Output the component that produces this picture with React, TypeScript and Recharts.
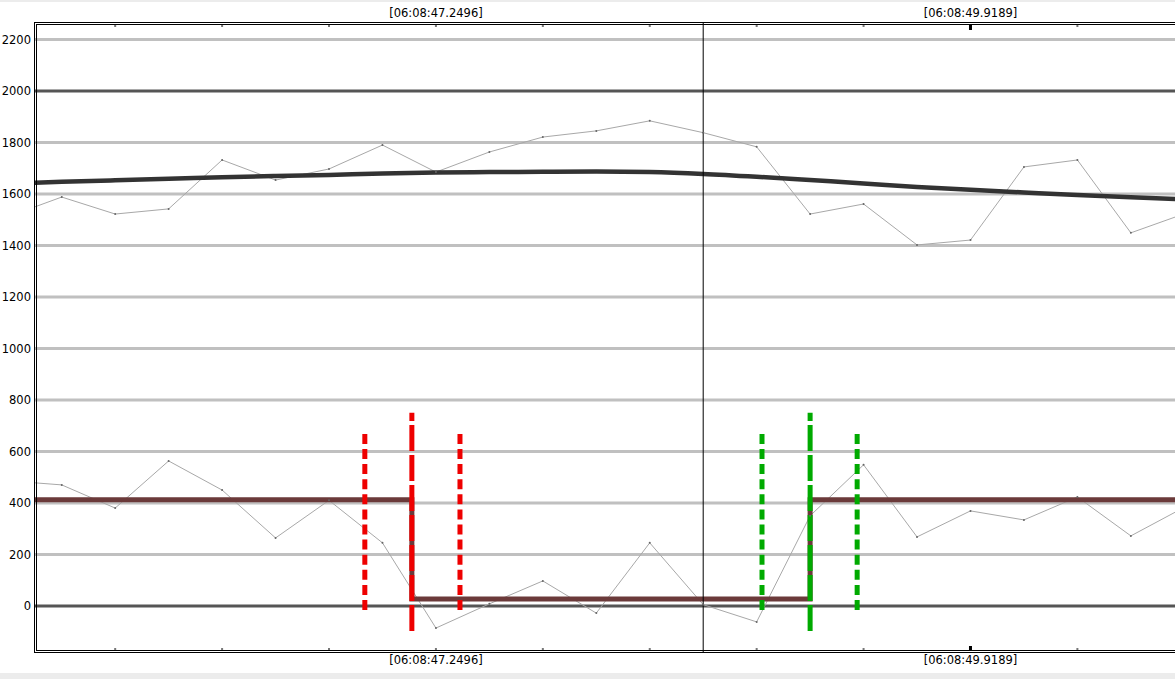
import { LineChart, Line, XAxis, YAxis, CartesianGrid, ReferenceLine } from 'recharts';

// sample positions (in sample units along the time axis)
const SAMPLE_T = [-0.5, 0.5, 1.5, 2.5, 3.5, 4.5, 5.5, 6.5, 7.5, 8.5, 9.5, 10.5, 11.5, 12.5, 13.5, 14.5, 15.5, 16.5, 17.5, 18.5, 19.5, 20.5, 21.5];

const RAW_UPPER = [1512, 1588, 1522, 1542, 1732, 1654, 1697, 1790, 1685, 1763, 1821, 1845, 1884, 1838, 1783, 1522, 1561, 1402, 1421, 1705, 1732, 1449, 1523];
const TREND_UPPER = [1640, 1647, 1653, 1659, 1665, 1670, 1674, 1679, 1683, 1685, 1686, 1687, 1685, 1678, 1667, 1654, 1641, 1627, 1616, 1606, 1596, 1587, 1579];
const RAW_LOWER = [486, 470, 380, 563, 450, 264, 410, 245, -86, 8, 97, -28, 245, 5, -62, 350, 548, 268, 369, 334, 423, 272, 383];

// step (state) line
const STEP_T = [-0.5, 7.05, 14.5, 21.8];
const STEP_V = [412, 27, 412, 412];

// event markers
const RED_SOLID_T = 7.05;
const RED_DOTTED_T = [6.17, 7.95];
const GREEN_SOLID_T = 14.5;
const GREEN_DOTTED_T = [13.6, 15.38];
const SOLID_RANGE = [-97, 750];
const DOTTED_RANGE = [668, -16];

const CURSOR_T = 12.5;

const Y_TICKS = [0, 200, 400, 600, 800, 1000, 1200, 1400, 1600, 1800, 2000, 2200];
const GRID_LIGHT = [200, 400, 600, 800, 1000, 1200, 1400, 1600, 1800, 2200];
const GRID_DARK = [0, 2000];

const TIME_TICKS = [1.5, 3.5, 5.5, 7.5, 9.5, 11.5, 13.5, 15.5, 17.5, 19.5];
const TIME_LABELS: Record<string, string> = {
  '7.5': '[06:08:47.2496]',
  '17.5': '[06:08:49.9189]'
};
const BOLD_TICK = 17.5;

const X_DOMAIN = [0, 21.7];
const Y_DOMAIN = [-179, 2264];

const FONT = '"DejaVu Sans", Verdana, sans-serif';

const rows = SAMPLE_T.map((t, i) => ({ t, upper: RAW_UPPER[i], trend: TREND_UPPER[i], lower: RAW_LOWER[i] }));
const stepRows = STEP_T.map((t, i) => ({ t, v: STEP_V[i] }));
const bar = (t: number, range: number[]) => [{ t, v: range[0] }, { t, v: range[1] }];

function TimeTick(props: any) {
  const { x, y, payload, side } = props;
  const label = TIME_LABELS[String(payload.value)];
  const bold = payload.value === BOLD_TICK;
  const top = side === 'top';
  return (
    <g>
      {bold ? (
        <rect x={x - 1.5} y={top ? y + 2 : y - 6} width={3} height={5} fill="#000" />
      ) : (
        <rect x={x - 1} y={top ? y + 2 : y - 4} width={2} height={2} fill="#777" />
      )}
      {label && (
        <text x={x} y={top ? y - 6 : y + 12} textAnchor="middle" fontSize={11.5} fontFamily={FONT} fill="#000">
          {label}
        </text>
      )}
    </g>
  );
}

export default function App() {
  return (
    <div style={{ position: 'relative', width: 1175, height: 679, overflow: 'hidden', background: '#fff' }}>
      <style>{'body{margin:0}'}</style>
      <div style={{ position: 'absolute', left: 0, top: 0, width: '100%', height: 2, background: '#ececec' }} />
      <div style={{ position: 'absolute', left: 0, top: 673, width: '100%', height: 6, background: '#ececec' }} />
      <div style={{ position: 'absolute', left: 0, top: 0 }}>
        <LineChart width={1195} height={679} data={rows} margin={{ top: 3, right: 0, bottom: 7, left: 0 }}>
          <CartesianGrid xAxisId="bottom" vertical={false} horizontalValues={GRID_LIGHT} stroke="#c0c0c0" strokeWidth={3} />
          <CartesianGrid xAxisId="bottom" vertical={false} horizontalValues={GRID_DARK} stroke="#555" strokeWidth={3} />
          <XAxis
            xAxisId="top"
            orientation="top"
            dataKey="t"
            type="number"
            domain={X_DOMAIN}
            allowDataOverflow
            ticks={TIME_TICKS}
            interval={0}
            height={20}
            axisLine={false}
            tickLine={false}
            tickSize={0}
            tickMargin={0}
            tick={<TimeTick side="top" />}
          />
          <XAxis
            xAxisId="bottom"
            orientation="bottom"
            dataKey="t"
            type="number"
            domain={X_DOMAIN}
            allowDataOverflow
            ticks={TIME_TICKS}
            interval={0}
            height={20}
            axisLine={false}
            tickLine={false}
            tickSize={0}
            tickMargin={0}
            tick={<TimeTick side="bottom" />}
          />
          <YAxis
            type="number"
            domain={Y_DOMAIN}
            allowDataOverflow
            ticks={Y_TICKS}
            interval={0}
            width={35}
            axisLine={false}
            tickLine={false}
            tickSize={0}
            tickMargin={4}
            tick={{ fontSize: 11.5, fontFamily: FONT, fill: '#000' }}
          />
          <Line xAxisId="bottom" dataKey="upper" stroke="#a8a8a8" strokeWidth={1} dot={{ r: 1, fill: '#666', stroke: 'none' }} isAnimationActive={false} />
          <Line xAxisId="bottom" dataKey="lower" stroke="#a8a8a8" strokeWidth={1} dot={{ r: 1, fill: '#666', stroke: 'none' }} isAnimationActive={false} />
          <Line xAxisId="bottom" dataKey="trend" type="monotone" stroke="#333" strokeWidth={4.5} dot={false} isAnimationActive={false} />
          <Line xAxisId="bottom" data={stepRows} dataKey="v" type="stepAfter" stroke="#6b3a3a" strokeWidth={5} dot={false} isAnimationActive={false} />
          {RED_DOTTED_T.map((t) => (
            <Line key={`rd${t}`} xAxisId="bottom" data={bar(t, DOTTED_RANGE)} dataKey="v" stroke="#ee0000" strokeWidth={5} strokeDasharray="10 5.1" dot={false} isAnimationActive={false} />
          ))}
          <Line xAxisId="bottom" data={bar(RED_SOLID_T, SOLID_RANGE)} dataKey="v" stroke="#ee0000" strokeWidth={5} strokeDasharray="26 4" dot={false} isAnimationActive={false} />
          {GREEN_DOTTED_T.map((t) => (
            <Line key={`gd${t}`} xAxisId="bottom" data={bar(t, DOTTED_RANGE)} dataKey="v" stroke="#00aa00" strokeWidth={5} strokeDasharray="10 5.1" dot={false} isAnimationActive={false} />
          ))}
          <Line xAxisId="bottom" data={bar(GREEN_SOLID_T, SOLID_RANGE)} dataKey="v" stroke="#00aa00" strokeWidth={5} strokeDasharray="26 4" dot={false} isAnimationActive={false} />
          <ReferenceLine xAxisId="bottom" x={CURSOR_T} stroke="#000" strokeWidth={1} />
        </LineChart>
      </div>
      <div
        style={{
          position: 'absolute',
          left: 34,
          top: 22,
          width: 1200,
          height: 625,
          border: '3px double #000',
          pointerEvents: 'none'
        }}
      />
    </div>
  );
}
